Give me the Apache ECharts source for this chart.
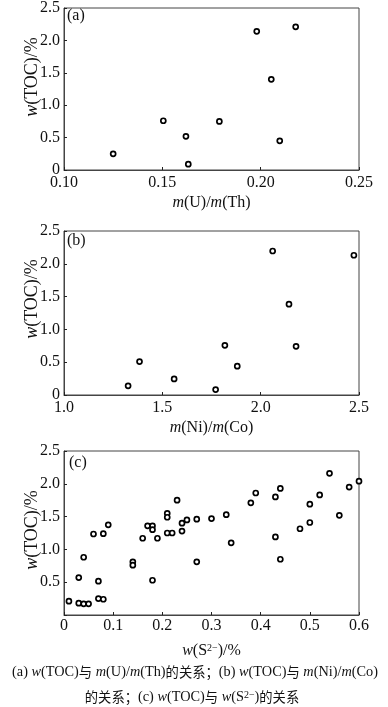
<!DOCTYPE html>
<html><head><meta charset="utf-8">
<script src="https://cdn.jsdelivr.net/npm/echarts@6/dist/echarts.min.js"></script>
<style>html,body{margin:0;padding:0;background:#fff}#c{width:388px;height:707px}</style>
</head><body><div id="c"></div>
<script>
// Panel (a): m(U)/m(Th) vs w(TOC)
var uthX = [0.125, 0.1505, 0.162, 0.1632, 0.179, 0.198, 0.2054, 0.2097, 0.2178];
var uthY = [0.25, 0.76, 0.52, 0.09, 0.75, 2.14, 1.40, 0.45, 2.21];
// Panel (b): m(Ni)/m(Co) vs w(TOC)
var niCoX = [1.326, 1.384, 1.56, 1.771, 1.818, 1.881, 2.061, 2.144, 2.18, 2.474];
var niCoY = [0.14, 0.51, 0.245, 0.083, 0.757, 0.44, 2.195, 1.385, 0.742, 2.13];
// Panel (c): w(S2-) vs w(TOC)
var s2X = [0.01,0.03,0.03,0.04,0.04,0.05,0.06,0.07,0.07,0.08,0.08,0.09,0.14,0.14,0.16,0.17,0.18,0.18,0.18,0.19,0.21,0.21,0.21,0.22,0.23,0.24,0.24,0.25,0.27,0.27,0.30,0.33,0.34,0.38,0.39,0.43,0.43,0.44,0.44,0.48,0.50,0.50,0.52,0.54,0.56,0.58,0.60];
var s2Y = [0.21,0.57,0.18,0.88,0.17,0.17,1.235,0.515,0.25,1.24,0.24,1.375,0.81,0.76,1.17,1.36,1.36,1.30,0.53,1.17,1.55,1.49,1.25,1.25,1.75,1.40,1.28,1.45,1.46,0.81,1.47,1.53,1.10,1.71,1.86,1.80,1.19,1.93,0.85,1.315,1.69,1.41,1.83,2.16,1.52,1.95,2.04];
// Axis ranges / tick steps
var xRanges = [[0.10, 0.25, 0.05], [1.0, 2.5, 0.5], [0, 0.6, 0.1]];
var yRange = [0, 2.5, 0.5];
var xDecimals = [2, 1, 1];
var panelTags = ['(a)', '(b)', '(c)'];
var xNames = ['{i|m}(U)/{i|m}(Th)', '{i|m}(Ni)/{i|m}(Co)', '{i|w}(S{sup|2−})/%'];
var yName = '{iy|w}(TOC)/%';
var captionLines = [
  '(a) {i|w}(TOC){c|与} {i|m}(U)/{i|m}(Th){c|的关系；}(b) {i|w}(TOC){c|与} {i|m}(Ni)/{i|m}(Co)',
  '{c|的关系；}(c) {i|w}(TOC){c|与} {i|w}(S{sup|2−}){c|的关系}'
];

var FONT = 'Liberation Serif, Times New Roman, serif';
var CJK = 'Noto Sans CJK SC, sans-serif';
function richFor(size) {
  return {
    i: {fontStyle: 'italic', fontFamily: FONT, fontSize: size, color: '#111'},
    iy: {fontStyle: 'italic', fontFamily: FONT, fontSize: 18, color: '#111'},
    c: {fontFamily: CJK, fontSize: size - 1, color: '#444'},
    sup: {fontFamily: FONT, fontSize: 10, verticalAlign: 'top', color: '#111'}
  };
}
function pairs(xs, ys) { return xs.map(function (x, i) { return [x, ys[i]]; }); }
var datasets = [pairs(uthX, uthY), pairs(niCoX, niCoY), pairs(s2X, s2Y)];

var grids = [
  {left: 64, right: 29, top: 4, height: 166},
  {left: 64, right: 29, top: 231, height: 164},
  {left: 64, right: 29, top: 451, height: 164}
];
var yNameCenters = [77, 299, 530];
var xLabelMargin = [5, 5, 3];
var xNameGap = [25, 25, 28];

var option = {
  backgroundColor: '#fff',
  animation: false,
  grid: grids.map(function (g) {
    return Object.assign({show: true, borderColor: '#444', borderWidth: 1, backgroundColor: 'transparent'}, g);
  }),
  xAxis: xRanges.map(function (r, k) {
    return {
      type: 'value', gridIndex: k, min: r[0], max: r[1], interval: r[2],
      name: xNames[k], nameLocation: 'middle', nameGap: xNameGap[k], nameMoveOverlap: false,
      nameTextStyle: {fontFamily: FONT, fontSize: 16, color: '#111', rich: richFor(16)},
      axisLine: {show: true, lineStyle: {color: '#444', width: 1}},
      axisTick: {show: true, inside: true, length: 3, lineStyle: {color: '#222'}},
      splitLine: {show: false},
      axisLabel: {
        fontFamily: FONT, fontSize: 16, color: '#111', margin: xLabelMargin[k],
        formatter: function (v) { return Math.abs(v) < 1e-9 ? '0' : v.toFixed(xDecimals[k]); }
      }
    };
  }),
  yAxis: [0, 1, 2].map(function (k) {
    return {
      type: 'value', gridIndex: k, min: yRange[0], max: yRange[1], interval: yRange[2],
      axisLine: {show: true, lineStyle: {color: '#444', width: 1}},
      axisTick: {show: true, inside: true, length: 3, lineStyle: {color: '#222'}},
      splitLine: {show: false},
      axisLabel: {
        fontFamily: FONT, fontSize: 16, color: '#111', margin: 4,
        formatter: function (v) {
          if (Math.abs(v) < 1e-9) return k === 2 ? '' : '0';
          return v.toFixed(1);
        }
      }
    };
  }),
  series: datasets.map(function (d, k) {
    return {
      type: 'scatter', xAxisIndex: k, yAxisIndex: k, data: d,
      symbol: 'circle', symbolSize: 5, clip: false,
      itemStyle: {color: '#fff', borderColor: '#000', borderWidth: 1.7, opacity: 1}
    };
  }),
  graphic: [
    {type: 'text', left: 67, top: 8, style: {text: panelTags[0], font: '16px ' + FONT, fill: '#111'}},
    {type: 'text', left: 67, top: 233, style: {text: panelTags[1], font: '16px ' + FONT, fill: '#111'}},
    {type: 'text', left: 69, top: 455, style: {text: panelTags[2], font: '16px ' + FONT, fill: '#111'}},
    {type: 'text', x: 195, y: 672, style: {text: captionLines[0], fontFamily: FONT, fontSize: 14.3, fill: '#111', rich: richFor(14.3), align: 'center', verticalAlign: 'middle'}},
    {type: 'text', x: 192, y: 697, style: {text: captionLines[1], fontFamily: FONT, fontSize: 14.3, fill: '#111', rich: richFor(14.3), align: 'center', verticalAlign: 'middle'}}
  ].concat(yNameCenters.map(function (cy) {
    return {type: 'text', x: 32, y: cy, rotation: Math.PI / 2,
      style: {text: yName, fontFamily: FONT, fontSize: 18, fill: '#111', rich: richFor(16), align: 'center', verticalAlign: 'middle'}};
  }))
};
var chart = echarts.init(document.getElementById('c'), null, {renderer: 'canvas'});
chart.setOption(option);
</script></body></html>
